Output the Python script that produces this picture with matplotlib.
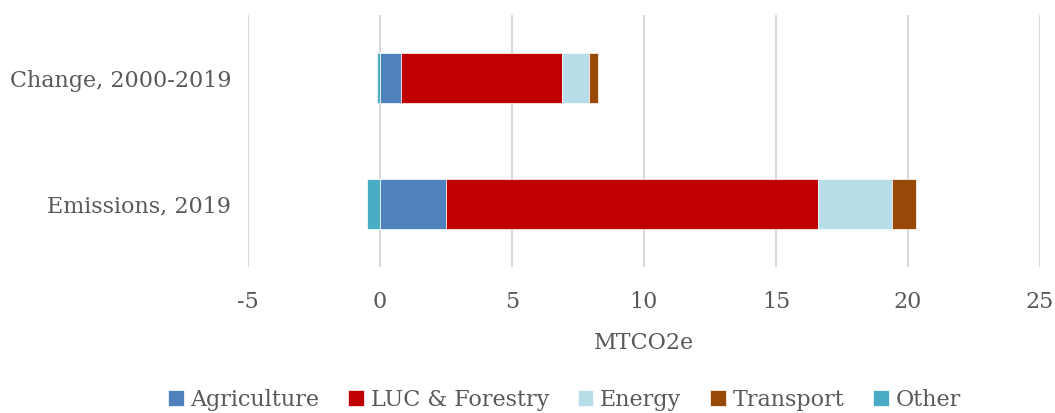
import matplotlib
matplotlib.use("Agg")
import matplotlib.pyplot as plt
import numpy as np

plt.rcParams['font.family'] = ['DejaVu Serif']

categories = ['Emissions, 2019', 'Change, 2000-2019']
sectors = ['Agriculture', 'LUC & Forestry', 'Energy', 'Transport', 'Other']
agriculture = [2.5, 0.8]
luc_forestry = [14.1, 6.1]
energy = [2.8, 1.0]
transport = [0.9, 0.35]
other = [-0.5, -0.1]
colors = ['#4F81BD', '#C00000', '#B7DEE8', '#984807', '#4BACC6']
xticks = [-5, 0, 5, 10, 15, 20, 25]

text_col = '#595959'
fig = plt.figure(figsize=(10.55, 4.13), dpi=100)
ax = fig.add_axes([248 / 1055, 1 - 267 / 413, (1040 - 248) / 1055, (267 - 15) / 413])

y = np.arange(len(categories))
h = 0.4
left = np.zeros(len(categories))
pos_series = [agriculture, luc_forestry, energy, transport]
handles = {}
for name, vals, c in zip(sectors[:4], pos_series, colors[:4]):
    b = ax.barh(y, vals, left=left, height=h, color=c, edgecolor='white', linewidth=0.5, zorder=3)
    handles[name] = b
    left = left + np.array(vals)
b = ax.barh(y, other, height=h, color=colors[4], edgecolor='white', linewidth=0.5, zorder=3)
handles['Other'] = b

ax.set_xlim(-5, 25)
ax.set_ylim(-0.5, 1.5)
ax.set_xticks(xticks)
ax.set_xticklabels([str(t) for t in xticks])
ax.set_yticks(y)
ax.set_yticklabels(categories)
ax.grid(axis='x', color='#D9D9D9', linewidth=1.5, zorder=0)
for s in ax.spines.values():
    s.set_visible(False)
ax.tick_params(length=0, labelsize=16, colors=text_col)
ax.tick_params(axis='x', pad=17)
ax.tick_params(axis='y', pad=12)
ax.set_xlabel('MTCO2e', fontsize=16, color=text_col, labelpad=14)

fig.legend([handles[s] for s in sectors], sectors, loc='center', bbox_to_anchor=(0.535, 1 - 400 / 413),
           ncol=5, frameon=False, fontsize=16, labelcolor=text_col, handlelength=0.7,
           handleheight=0.7, handletextpad=0.3, columnspacing=1.3)

fig.savefig('out.png', dpi=100)
